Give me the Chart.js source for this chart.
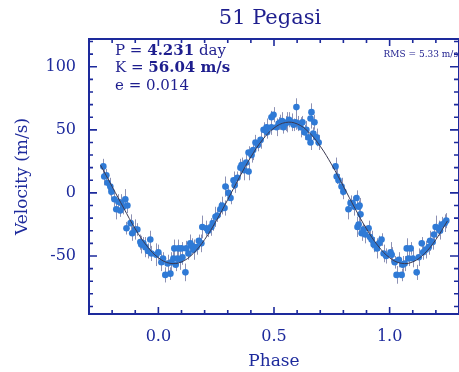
<!DOCTYPE html>
<html>
<head>
<meta charset="utf-8">
<script src="https://cdn.jsdelivr.net/npm/chart.js@4/dist/chart.umd.min.js"></script>
<style>
  html, body { margin: 0; padding: 0; background: #fff; }
</style>
</head>
<body>
<canvas id="rv-chart" width="459" height="372"></canvas>
<script>
// Radial velocity data for 51 Peg, folded on phase
const phase = [
  -0.238,-0.234,-0.225,-0.220,-0.208,-0.203,-0.190,-0.182,-0.173,-0.165,
  -0.160,-0.152,-0.143,-0.138,-0.134,-0.120,-0.113,-0.100,-0.091,-0.078,
  -0.074,-0.065,-0.056,-0.045,-0.035,-0.030,-0.009,0.000,0.013,0.020,
  0.030,0.040,0.052,0.056,0.065,0.069,0.075,0.082,0.087,0.095,
  0.100,0.104,0.117,0.121,0.130,0.138,0.145,0.152,0.165,0.175,
  0.186,0.190,0.208,0.215,0.229,0.235,0.247,0.255,0.268,0.275,
  0.286,0.290,0.303,0.312,0.325,0.330,0.342,0.355,0.360,0.370,
  0.380,0.390,0.390,0.403,0.410,0.420,0.430,0.442,0.455,0.468,
  0.470,0.489,0.489,0.498,0.511,0.520,0.528,0.535,0.541,0.550,
  0.558,0.565,0.576,0.585,0.593,0.597,0.605,0.615,0.623,0.632,
  0.640,0.649,0.658,0.658,0.662,0.670,0.675,0.684,0.693,0.766,
  0.771,0.779,0.792,0.800,0.822,0.831,0.840,0.848,0.857,0.861,
  0.866,0.866,0.870,0.874,0.879,0.887,0.895,0.909,0.915,0.922,
  0.931,0.945,0.955,0.965,0.974,0.985,1.004,1.009,1.022,1.030,
  1.040,1.052,1.056,1.065,1.074,1.082,1.091,1.100,1.117,1.126,
  1.139,1.145,1.156,1.169,1.175,1.186,1.192,1.199,1.212,1.218,
  1.225,1.238,1.245
];
const velocity = [
  21,13,14,8,5,1,-5,-13,-7,-14,
  -8,-11,-5,-28,-10,-24,-32,-29,-29,-39,
  -41,-40,-43,-46,-37,-48,-49,-47,-55,-52,
  -65,-56,-64,-55,-52,-44,-57,-52,-44,-53,
  -44,-51,-63,-44,-48,-40,-42,-45,-43,-38,
  -40,-27,-28,-30,-27,-24,-19,-18,-13,-10,
  -12,5,0,-4,10,6,12,20,22,18,
  24,17,32,30,34,40,38,42,50,52,
  48,52,60,62,52,55,56,57,52,55,
  56,58,56,54,56,68,55,52,56,48,
  50,44,59,40,64,47,56,44,40,21,
  13,10,5,1,-13,-8,-8,-11,-4,-27,
  -11,-25,-10,-17,-32,-29,-33,-28,-35,-37,
  -41,-44,-40,-37,-48,-50,-47,-49,-55,-65,
  -53,-65,-57,-56,-44,-52,-44,-52,-63,-51,
  -40,-47,-45,-43,-38,-39,-33,-27,-28,-30,
  -25,-24,-22
];
const velErr = [
  6,7,5,6,7,6,6,8,6,5,
  7,6,8,5,6,7,6,8,5,6,
  7,5,8,6,7,6,9,6,7,5,
  6,7,5,8,6,7,5,6,7,8,
  5,6,7,6,5,7,6,8,6,5,
  7,9,6,5,7,6,8,5,6,7,
  6,8,6,5,7,6,5,7,6,8,
  6,7,5,6,8,6,5,7,6,7,
  5,6,5,6,7,5,6,7,5,6,
  8,6,7,5,6,7,6,8,5,6,
  7,6,8,6,7,5,6,7,6,7,
  6,5,7,6,8,6,5,7,6,8,
  5,6,6,7,6,5,7,6,5,7,
  6,8,6,5,7,6,8,6,5,7,
  6,5,7,6,8,6,5,7,6,7,
  5,6,7,6,8,6,5,9,6,7,
  6,7,6
];

// Orbital fit curve
const fitPhase = [
  -0.25,-0.20,-0.15,-0.10,-0.05,0.00,0.05,0.10,0.15,0.20,0.25,
  0.30,0.35,0.40,0.45,0.50,0.55,0.60,0.65,0.70,0.75,
  0.80,0.85,0.90,0.95,1.00,1.05,1.10,1.15,1.20,1.25
];
const fitVel = [
  22,5,-12,-28.5,-42,-51.4,-55.8,-54.7,-48.2,-37,-22.2,
  -5.3,12.2,28.5,42,51.4,55.8,54.7,48.2,37,22.2,
  5.3,-12.2,-28.5,-42,-51.4,-55.8,-54.7,-48.2,-37,-22.2
];

const xTickVals = [0.0, 0.5, 1.0];
const yTickVals = [-50, 0, 50, 100];

const navy = '#1d2a9c';
const serif = 'DejaVu Serif';

// error bars under the points
const errorBars = {
  id: 'errorBars',
  beforeDatasetsDraw(chart) {
    const {ctx, chartArea: a, scales: {x, y}} = chart;
    ctx.save();
    ctx.beginPath();
    ctx.rect(a.left, a.top, a.right - a.left, a.bottom - a.top);
    ctx.clip();
    ctx.strokeStyle = '#8d91b4';
    ctx.lineWidth = 1;
    ctx.beginPath();
    phase.forEach((p, i) => {
      const px = Math.round(x.getPixelForValue(p)) + 0.5;
      ctx.moveTo(px, y.getPixelForValue(velocity[i] + velErr[i]));
      ctx.lineTo(px, y.getPixelForValue(velocity[i] - velErr[i]));
    });
    ctx.stroke();
    ctx.restore();
  }
};

// IDL style box with inward ticks, plus title and annotations
const frame = {
  id: 'frame',
  afterDraw(chart) {
    const {ctx, chartArea: a, scales: {x, y}} = chart;
    ctx.save();
    ctx.strokeStyle = navy;
    ctx.lineWidth = 2;
    ctx.strokeRect(a.left, a.top, a.right - a.left, a.bottom - a.top);

    ctx.lineWidth = 1.6;
    ctx.beginPath();
    for (let v = -0.3; v <= 1.31; v += 0.1) {
      const px = x.getPixelForValue(v);
      const major = Math.abs(v * 2 - Math.round(v * 2)) < 1e-6;
      const len = major ? 7 : 4;
      ctx.moveTo(px, a.bottom); ctx.lineTo(px, a.bottom - len);
      ctx.moveTo(px, a.top); ctx.lineTo(px, a.top + len);
    }
    for (let v = -90; v <= 120; v += 10) {
      const py = y.getPixelForValue(v);
      const len = v % 50 === 0 ? 8 : 4;
      ctx.moveTo(a.left, py); ctx.lineTo(a.left + len, py);
      ctx.moveTo(a.right - 1, py); ctx.lineTo(a.right - 1 - len, py);
    }
    ctx.stroke();

    ctx.fillStyle = '#1e1e8e';
    ctx.textBaseline = 'middle';
    ctx.textAlign = 'center';
    ctx.font = '21px ' + serif;
    ctx.fillText('51 Pegasi', 270, 19);

    ctx.textAlign = 'left';
    const lines = [
      [['P = ', ''], ['4.231', 'bold '], [' day', '']],
      [['K = ', ''], ['56.04 m/s', 'bold ']],
      [['e = 0.014', '']]
    ];
    lines.forEach((segs, i) => {
      let tx = 115;
      segs.forEach(([t, w]) => {
        ctx.font = w + '15px ' + serif;
        ctx.fillText(t, tx, 51 + i * 17.5);
        tx += ctx.measureText(t).width;
      });
    });

    ctx.textAlign = 'right';
    ctx.font = '9px ' + serif;
    ctx.fillText('RMS = 5.33 m/s', 458, 55);
    ctx.restore();
  }
};

new Chart(document.getElementById('rv-chart'), {
  type: 'scatter',
  data: {
    datasets: [
      {
        type: 'line',
        data: fitPhase.map((p, i) => ({x: p, y: fitVel[i]})),
        borderColor: '#3a3850',
        borderWidth: 1,
        pointRadius: 0,
        tension: 0.4,
        fill: false
      },
      {
        data: phase.map((p, i) => ({x: p, y: velocity[i]})),
        backgroundColor: '#2f7ad6',
        borderWidth: 0,
        pointRadius: 3.3
      }
    ]
  },
  options: {
    responsive: false,
    animation: false,
    layout: { autoPadding: false, padding: { top: 39, right: 0, left: 0, bottom: 0 } },
    plugins: { legend: { display: false }, tooltip: { enabled: false } },
    scales: {
      x: {
        type: 'linear',
        min: -0.3,
        max: 1.3,
        grid: { display: false, drawTicks: false },
        border: { display: false },
        afterFit: s => { s.height = 58; s.paddingLeft = 0; s.paddingRight = 0; },
        afterBuildTicks: s => { s.ticks = xTickVals.map(v => ({value: v})); },
        ticks: {
          padding: 13,
          color: navy,
          font: { family: serif, size: 16 },
          callback: v => v.toFixed(1)
        },
        title: {
          display: true,
          text: 'Phase',
          color: navy,
          font: { family: serif, size: 17 },
          padding: { top: 0, bottom: 0 }
        }
      },
      y: {
        min: -96,
        max: 122,
        grid: { display: false, drawTicks: false },
        border: { display: false },
        afterFit: s => { s.width = 89; s.paddingTop = 0; s.paddingBottom = 0; },
        afterBuildTicks: s => { s.ticks = yTickVals.map(v => ({value: v})); },
        ticks: {
          padding: 13,
          color: navy,
          font: { family: serif, size: 16 },
          callback: v => String(v)
        },
        title: {
          display: true,
          text: 'Velocity (m/s)',
          color: navy,
          font: { family: serif, size: 17 },
          padding: { top: 12, bottom: 0 }
        }
      }
    }
  },
  plugins: [errorBars, frame]
});
</script>
</body>
</html>
